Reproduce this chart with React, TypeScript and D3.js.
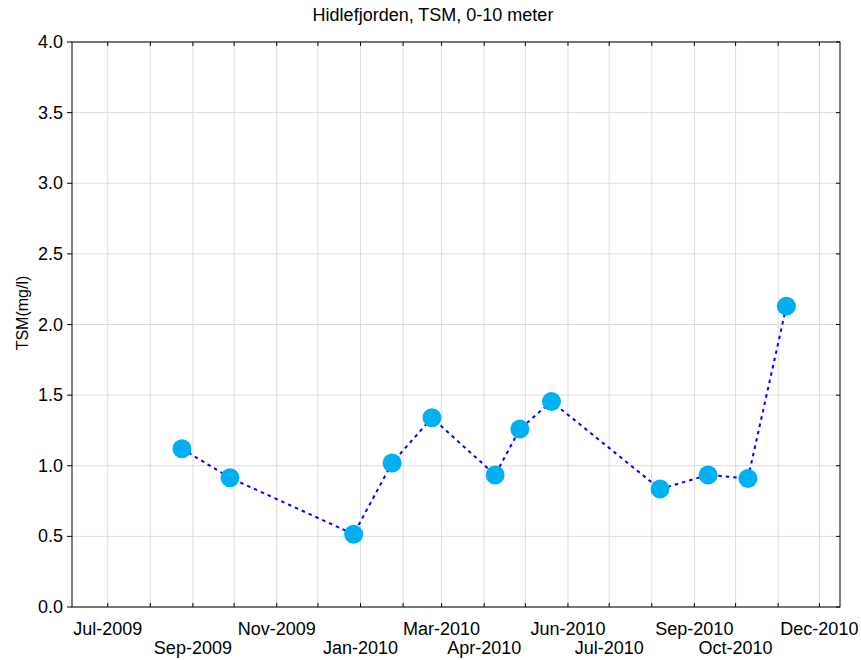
import * as d3 from 'd3'

// Sampling dates and TSM values (mg/l)
const sampleDates = [
  '2009-08-24', '2009-09-28', '2009-12-27', '2010-01-24', '2010-02-22', '2010-04-09',
  '2010-04-27', '2010-05-20', '2010-08-07', '2010-09-11', '2010-10-10', '2010-11-07',
]
const tsmValues = [1.12, 0.915, 0.515, 1.02, 1.34, 0.935, 1.26, 1.455, 0.835, 0.935, 0.91, 2.13]

// Months that carry a label (alternating rows)
const labelMonths = [
  '2009-07', '2009-09', '2009-11', '2010-01', '2010-03', '2010-04',
  '2010-06', '2010-07', '2010-09', '2010-10', '2010-12',
]
const yTicks = [0, 0.5, 1, 1.5, 2, 2.5, 3, 3.5, 4]

const title = 'Hidlefjorden, TSM, 0-10 meter'
const yTitle = 'TSM(mg/l)'

const W = 861
const H = 660
const margin = { top: 42, right: 21, bottom: 53, left: 72 }
const FONT = 'Arial, "Liberation Sans", sans-serif'

export default function App() {
  const parseDay = d3.timeParse('%Y-%m-%d')
  const parseMonth = d3.timeParse('%Y-%m')
  const fmt = d3.timeFormat('%b-%Y')

  const x = d3.scaleTime()
    .domain([new Date(2009, 5, 5), new Date(2010, 11, 16)])
    .range([margin.left, W - margin.right])
  const y = d3.scaleLinear().domain([0, 4]).range([H - margin.bottom, margin.top])

  const [x0, x1] = x.range()
  const [y0, y1] = y.range()

  const monthTicks = d3.timeMonth.range(new Date(2009, 6, 1), new Date(2010, 11, 2))

  const points = sampleDates.map((d, i) => ({ date: parseDay(d)!, value: tsmValues[i] }))
  const line = d3.line<{ date: Date; value: number }>()
    .x(d => x(d.date))
    .y(d => y(d.value))

  return (
    <svg width={W} height={H} style={{ position: 'absolute', left: 0, top: 0, background: '#fff' }}
      fontFamily={FONT}>
      <text x={433} y={21} textAnchor="middle" fontSize={18} fill="#000">{title}</text>

      {/* grid */}
      {monthTicks.map((t, i) => (
        <line key={'gx' + i} x1={x(t)} x2={x(t)} y1={y1} y2={y0} stroke="#dcdcdc" strokeWidth={1} />
      ))}
      {yTicks.map((t, i) => (
        <line key={'gy' + i} x1={x0} x2={x1} y1={y(t)} y2={y(t)} stroke="#dcdcdc" strokeWidth={1} />
      ))}

      {/* tick marks */}
      {monthTicks.map((t, i) => (
        <g key={'tx' + i}>
          <line x1={x(t)} x2={x(t)} y1={y0} y2={y0 - 4} stroke="#000" />
          <line x1={x(t)} x2={x(t)} y1={y1} y2={y1 + 4} stroke="#000" />
        </g>
      ))}
      {yTicks.map((t, i) => (
        <g key={'ty' + i}>
          <line x1={x0} x2={x0 - 5} y1={y(t)} y2={y(t)} stroke="#000" />
          <line x1={x1} x2={x1 - 4} y1={y(t)} y2={y(t)} stroke="#000" />
        </g>
      ))}

      <rect x={x0} y={y1} width={x1 - x0} height={y0 - y1} fill="none" stroke="#000" strokeWidth={1} />

      {/* y labels */}
      {yTicks.map((t, i) => (
        <text key={'yl' + i} x={x0 - 9} y={y(t) + 6} textAnchor="end" fontSize={18} fill="#000">
          {d3.format('.1f')(t)}
        </text>
      ))}
      <text transform={`translate(${28},${313}) rotate(-90)`} textAnchor="middle" fontSize={16} fill="#000">
        {yTitle}
      </text>

      {/* x labels */}
      {labelMonths.map((m, i) => {
        const d = parseMonth(m)!
        return (
          <text key={'xl' + i} x={x(d)} y={i % 2 === 0 ? 635 : 654} textAnchor="middle" fontSize={18} fill="#000">
            {fmt(d)}
          </text>
        )
      })}

      {/* series */}
      <path d={line(points) ?? ''} fill="none" stroke="#0000ff" strokeWidth={2} strokeDasharray="3.5,4" />
      {points.map((p, i) => (
        <circle key={'p' + i} cx={x(p.date)} cy={y(p.value)} r={9.5} fill="#00b0f0" />
      ))}
    </svg>
  )
}
